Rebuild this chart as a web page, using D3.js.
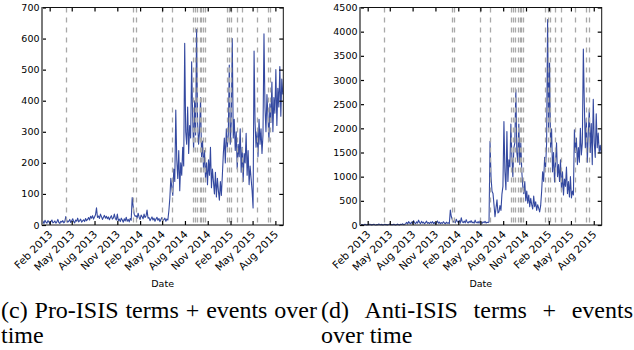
<!DOCTYPE html>
<html>
<head>
<meta charset="utf-8">
<script src="https://cdn.jsdelivr.net/npm/d3@7"></script>
<style>
  body { margin: 0; background: #fff; }
  svg { display: block; }
</style>
</head>
<body>
<div id="chart"></div>
<script>
// daily series sampled every 4 days from startDate
const startDate = new Date(2013, 0, 1);
const endDate = new Date(2015, 8, 2);
const stepDays = 4;

const proValues = [
  8,12,5,15,9,6,14,10,4,11,16,7,9,13,6,10,18,8,5,12,9,14,7,11,
  27,15,9,12,18,8,14,20,11,7,16,12,22,10,14,19,9,13,17,11,21,14,
  18,24,16,28,22,30,19,26,33,55,24,29,21,35,27,18,25,31,22,28,20,26,17,24,30,19,23,35,21,16,
  35,14,19,11,22,16,9,20,13,25,12,18,10,21,15,
  88,60,35,28,
  30,22,38,25,18,32,27,20,35,24,29,48,22,
  24,14,20,26,16,22,12,19,25,15,21,11,18,24,14,17,22,12,19,16,
  45,86,150,
  120,95,180,140,370,210,150,240,110,200,160,250,190,585,300,
  260,380,230,320,280,525,350,240,400,290,630,330,260,
  300,410,220,270,180,240,150,200,130,210,160,250,120,180,140,100,170,90,150,110,80,140,95,
  160,230,280,200,310,250,290,515,260,330,600,280,340,240,
  300,180,260,220,310,170,250,140,230,200,295,160,240,130,190,150,110,
  55,560,
  330,250,300,220,340,260,310,230,290,
  615,380,
  300,420,350,270,390,330,460,300,410,360,500,320,440,380,510,350,470,420
];

const antiValues = [
  8,3,12,5,0,15,6,2,10,4,18,7,3,9,14,5,1,11,6,20,8,4,13,2,7,16,5,10,3,12,22,6,9,4,15,8,2,11,18,6,3,14,9,25,7,12,
  30,55,20,70,40,25,60,35,90,45,28,65,38,100,50,30,75,42,58,25,48,80,35,52,28,62,40,70,30,55,22,45,85,38,60,27,50,33,68,42,25,58,36,47,30,
  310,170,110,
  60,85,45,120,70,55,95,40,150,65,50,80,45,110,60,42,75,55,90,48,62,38,100,52,45,70,40,85,55,35,65,48,75,42,58,50,68,
  1730,1000,700,650,
  420,170,350,520,250,270,400,300,640,800,
  2140,
  1100,730,1935,900,1350,
  1200,2090,1400,1000,1600,
  1700,2800,1500,
  1300,2090,1250,1700,1100,
  800,650,900,500,700,450,620,380,550,420,330,600,380,480,300,420,350,270,400,
  700,1100,900,1400,1200,1700,
  4250,2000,3350,1600,
  1990,1100,1500,890,1300,1700,1000,1250,
  900,1350,700,1100,620,950,800,1200,650,900,580,1000,560,700,620,
  1970,
  1500,1800,1250,1600,1300,2000,1450,
  1700,3640,
  2500,1600,2200,1300,1900,2400,1500,2100,1250,2600,1700,1400,2300,1600,1900,1500,1650,1490
];

const eventDates = [
  "2013-04-08", "2014-01-05", "2014-01-16", "2014-04-30", "2014-06-09",
  "2014-09-02", "2014-09-09", "2014-09-18", "2014-09-29", "2014-10-06", "2014-10-13", "2014-10-19",
  "2015-01-18", "2015-01-27", "2015-02-04", "2015-02-27", "2015-03-20",
  "2015-05-19", "2015-07-01", "2015-07-12"
];

const tickMonths = [
  "2013-02-01", "2013-05-01", "2013-08-01", "2013-11-01",
  "2014-02-01", "2014-05-01", "2014-08-01", "2014-11-01",
  "2015-02-01", "2015-05-01", "2015-08-01"
];

const proTicks = [0, 100, 200, 300, 400, 500, 600, 700];
const antiTicks = [0, 500, 1000, 1500, 2000, 2500, 3000, 3500, 4000, 4500];

const proCaption = [["(c)", "Pro-ISIS", "terms", "+", "events", "over"], ["time"]];
const antiCaption = [["(d)", "Anti-ISIS", "terms", "+", "events"], ["over time"]];

const width = 634, height = 350;
const parseDay = d3.timeParse("%Y-%m-%d");
const fmt = d3.timeFormat("%b %Y");
const tickFont = "'DejaVu Sans', sans-serif";
const capFont = "'Liberation Serif', serif";
const capSize = "24px";

const svg = d3.select("#chart").append("svg")
  .attr("width", width)
  .attr("height", height);

svg.append("rect").attr("width", width).attr("height", height).attr("fill", "#fff");

function drawPanel(values, yMax, yTicks, left, right, caption, capLeft, capRight) {
  const top = 7.5, bottom = 225;
  const g = svg.append("g");

  const x = d3.scaleTime().domain([startDate, endDate]).range([left, right]);
  const y = d3.scaleLinear().domain([0, yMax]).range([bottom, top]);

  const pts = values.map((v, i) => ({ date: d3.timeDay.offset(startDate, i * stepDays), value: v }));

  const line = d3.line()
    .x(d => x(d.date))
    .y(d => y(d.value));

  g.append("path")
    .datum(pts)
    .attr("fill", "none")
    .attr("stroke", "#3449a0")
    .attr("stroke-width", 1.1)
    .attr("stroke-linejoin", "round")
    .attr("d", line);

  g.append("g")
    .selectAll("line")
    .data(eventDates.map(parseDay))
    .join("line")
    .attr("x1", d => Math.round(x(d)) + 0.5)
    .attr("x2", d => Math.round(x(d)) + 0.5)
    .attr("y1", top)
    .attr("y2", bottom)
    .attr("stroke", "#a8a8a8")
    .attr("stroke-width", 1.3)
    .attr("stroke-dasharray", "5,5");

  const tickDates = tickMonths.map(parseDay);

  const xAxis = g.append("g")
    .attr("transform", `translate(0,${bottom})`)
    .call(d3.axisBottom(x).tickValues(tickDates).tickSize(-4).tickFormat(fmt));
  xAxis.selectAll("text")
    .attr("font-family", tickFont)
    .attr("font-size", "10.5px")
    .attr("fill", "#000")
    .attr("text-anchor", "end")
    .attr("dy", null)
    .attr("y", 0)
    .attr("transform", "translate(3,10) rotate(-45)");

  g.append("g")
    .attr("transform", `translate(0,${top})`)
    .call(d3.axisTop(x).tickValues(tickDates).tickSize(-4).tickFormat(""));

  const yAxis = g.append("g")
    .attr("transform", `translate(${left},0)`)
    .call(d3.axisLeft(y).tickValues(yTicks).tickSize(-4).tickPadding(2.5).tickFormat(d3.format("d")));
  yAxis.selectAll("text")
    .attr("font-family", tickFont)
    .attr("font-size", "9.5px")
    .attr("fill", "#000");

  g.append("g")
    .attr("transform", `translate(${right},0)`)
    .call(d3.axisRight(y).tickValues(yTicks).tickSize(-4).tickFormat(""));

  g.selectAll(".domain").remove();
  g.selectAll(".tick line").attr("stroke", "#000").attr("stroke-width", 1.2);

  // frame
  g.append("rect")
    .attr("x", left).attr("y", top)
    .attr("width", right - left).attr("height", bottom - top)
    .attr("fill", "none").attr("stroke", "#111").attr("stroke-width", 1);
  g.append("line")
    .attr("x1", left).attr("x2", left).attr("y1", top).attr("y2", bottom)
    .attr("stroke", "#7a7a7a").attr("stroke-width", 2);

  g.append("text")
    .attr("x", (left + right) / 2)
    .attr("y", 287)
    .attr("text-anchor", "middle")
    .attr("font-family", tickFont)
    .attr("font-size", "9.5px")
    .text("Date");

  // caption, first line justified
  justify(caption[0], capLeft, capRight, 318);
  svg.append("text")
    .attr("x", capLeft).attr("y", 343)
    .attr("font-family", capFont)
    .attr("font-size", capSize)
    .text(caption[1][0]);
}

function justify(words, x0, x1, yBase) {
  const nodes = words.map(w => svg.append("text")
    .attr("y", yBase)
    .attr("font-family", capFont)
    .attr("font-size", capSize)
    .text(w));
  const widths = nodes.map(n => n.node().getComputedTextLength());
  const gap = (x1 - x0 - d3.sum(widths)) / (words.length - 1);
  let cx = x0;
  nodes.forEach((n, i) => { n.attr("x", cx); cx += widths[i] + gap; });
}

drawPanel(proValues, 700, proTicks, 42, 283.3, proCaption, 1, 317);
drawPanel(antiValues, 4500, antiTicks, 360, 601.7, antiCaption, 321, 633);
</script>
</body>
</html>
